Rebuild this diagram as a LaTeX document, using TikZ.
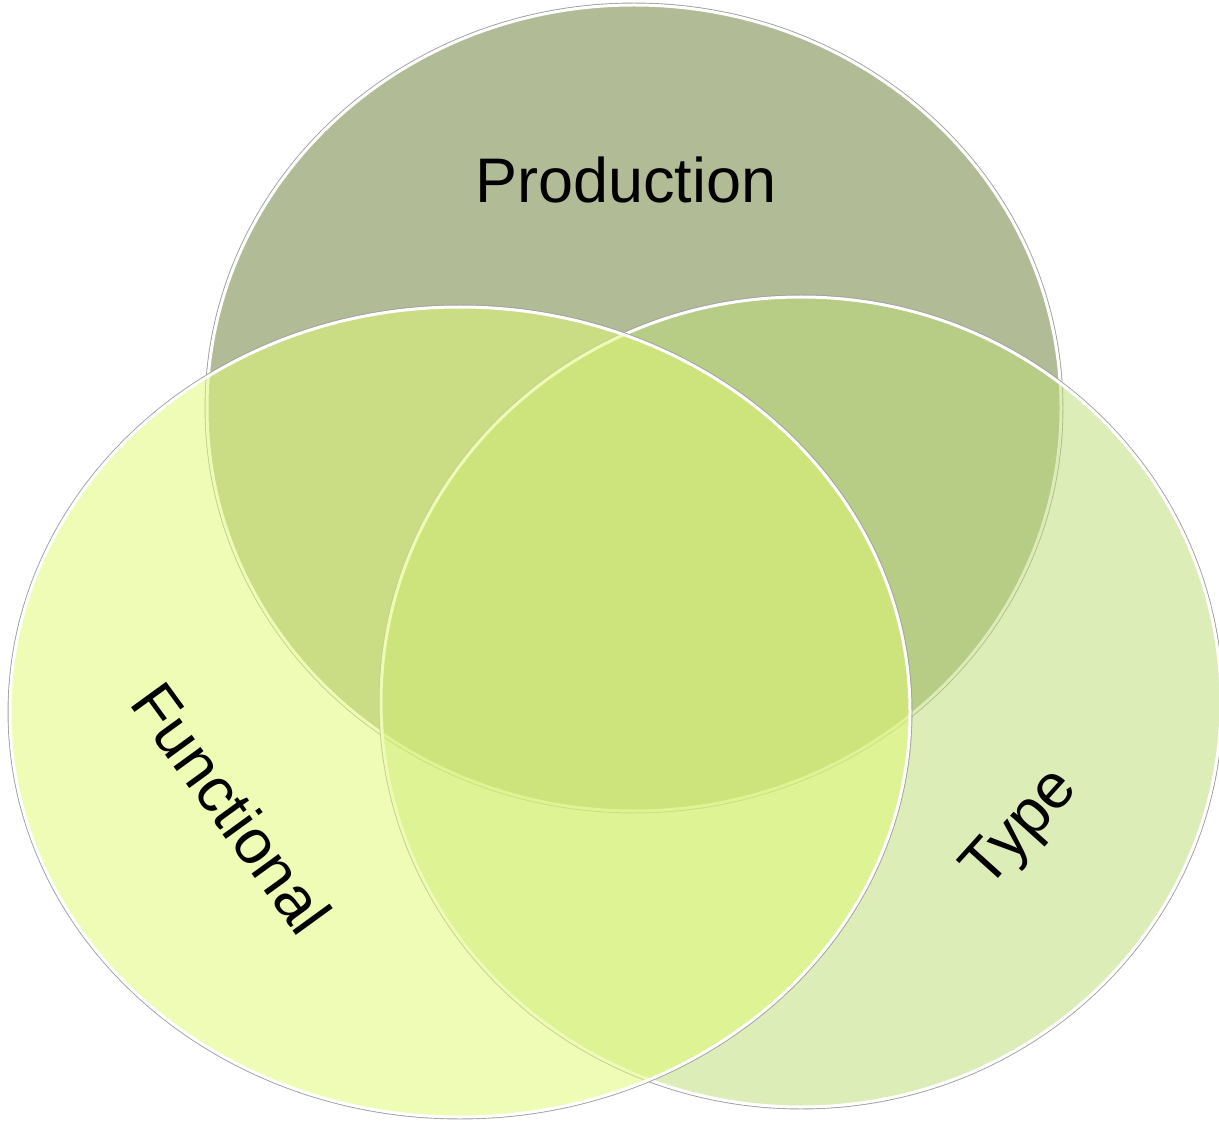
\documentclass[tikz,border=0pt]{standalone}
\usepackage{fontspec}
\setmainfont{Liberation Sans}
\definecolor{pcol}{HTML}{B1BC97}
\definecolor{tcol}{HTML}{BEDC75}
\definecolor{fcol}{HTML}{E0F976}
\definecolor{rimcol}{HTML}{A0A0A0}
\tikzset{
  rimgray/.style={draw=rimcol, line width=0.6pt},
  rimwhite/.style={draw=white, line width=1.5pt},
  lbl/.style={font=\fontsize{31.5}{35}\selectfont, text=black, inner sep=0pt}
}
\begin{document}
\begin{tikzpicture}[x=0.5pt,y=-0.5pt]
\useasboundingbox (0,0) rectangle (1219,1122);
\clip (0,0) rectangle (1219,1122);
% Production
\coordinate (pc) at (634,408);
\fill[pcol] (pc) ellipse [x radius=427, y radius=403];
\draw[rimgray] (pc) ellipse [x radius=428.8, y radius=404.8];
\draw[rimwhite] (pc) ellipse [x radius=427, y radius=403];
% Type
\coordinate (tc) at (801,702);
\fill[tcol, fill opacity=0.52] (tc) ellipse [x radius=420, y radius=405];
\draw[rimgray] (tc) ellipse [x radius=421.8, y radius=406.8];
\draw[rimwhite] (tc) ellipse [x radius=420, y radius=405];
% Functional
\coordinate (fc) at (460,712);
\fill[fcol, fill opacity=0.54] (fc) ellipse [x radius=450, y radius=405];
\draw[rimgray] (fc) ellipse [x radius=451.8, y radius=406.8];
\draw[rimwhite] (fc) ellipse [x radius=450, y radius=405];
% labels
\node[lbl] (lp) at (626,180) {Production};
\node[lbl, rotate=-54] (lf) at (232,808) {Functional};
\node[lbl, rotate=48] (lt) at (1022,830) {Type};
\end{tikzpicture}
\end{document}
